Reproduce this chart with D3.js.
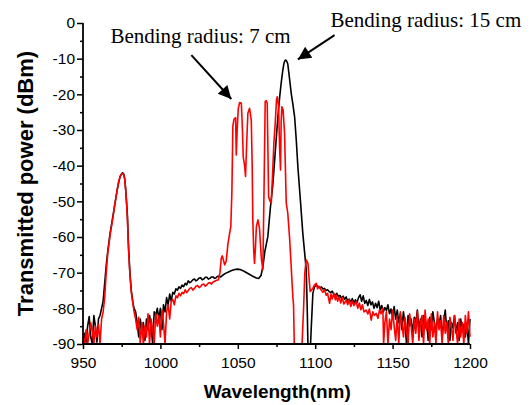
<!DOCTYPE html>
<html>
<head>
<meta charset="utf-8">
<script src="https://cdn.jsdelivr.net/npm/d3@7"></script>
<style>
  body { margin: 0; background: #fff; }
  .tick text { font-family: "Liberation Sans", Arial, sans-serif; font-size: 15.5px; fill: #000; }
  .axis-title { font-family: "Liberation Sans", Arial, sans-serif; font-weight: bold; fill: #000; }
  .note { font-family: "Liberation Serif", "Times New Roman", serif; font-size: 21px; fill: #000; }
</style>
</head>
<body>
<div id="chart"></div>
<script>
// wavelength (nm), transmitted power (dBm)
const black15cm = [
  [950,-90],[951,-87],[952,-89.5],[953,-85],[954,-82.3],[955,-88],[956,-90],[957,-82],[958,-85],[959,-89.5],
  [960,-83],[961,-82],[962,-80],[963,-78],[963.6,-75],[965,-68],[966,-64],[967.5,-59],[969.4,-54],[970.5,-51],
  [972,-47],[973,-44.8],[974,-43],[975,-42.2],[975.6,-42],[976.3,-42.3],[977,-43.8],[977.6,-46.8],[978.2,-50.5],
  [978.7,-54],[979.1,-59],[979.5,-63.6],[980.3,-70],[981.2,-75],[982.3,-78.5],[983,-80],[984,-81],[985,-84],
  [986,-88],[987,-83],[988,-87],[989,-84],[990,-89],[991,-83],[992,-86],[993,-82],[994,-85],[995,-90],[996,-81],
  [997,-82],[998,-80],[999,-83],[1000,-80],[1001,-86],[1002,-79],[1003,-81],[1004,-77],[1005,-79],[1006,-76],
  [1007,-78],[1008,-75.5],[1009,-76],[1010,-74.5],[1011,-74.9],[1012,-74],[1013,-74.4],[1014,-73.5],[1015,-73.9],
  [1016,-73],[1017,-73.4],[1018,-72.3],[1019,-72.8],[1020,-72.5],[1021,-72],[1022,-71.8],[1023,-72.3],[1024,-72],
  [1025,-71.5],[1026,-71.4],[1027,-72],[1028,-71.8],[1029,-71.3],[1030,-71.3],[1031,-71.8],[1032,-71.6],
  [1033,-71.2],[1034,-71.2],[1035,-71.6],[1036,-71.4],[1037,-71],[1038,-71],[1039,-71.2],[1040,-70.8],[1042,-70.2],
  [1044,-69.8],[1046,-69.4],[1048,-69.1],[1050,-69],[1052,-69.2],[1054,-69.6],[1056,-70.1],[1058,-70.6],
  [1060,-71.1],[1062,-71.5],[1063.5,-71.6],[1065,-70.8],[1066.2,-68.3],[1067.5,-64],[1069.4,-59.9],[1071,-52],
  [1072.7,-45],[1074.3,-35.5],[1075.9,-26.3],[1077,-21],[1078,-16.9],[1079,-13.5],[1079.8,-11.3],[1080.5,-10.5],
  [1081,-10.4],[1081.6,-10.7],[1082.3,-11.5],[1083.4,-15.5],[1084.5,-19.7],[1085.6,-22.8],[1086.7,-26.3],
  [1087.8,-33],[1088.8,-40.3],[1090.4,-49.5],[1092,-59],[1093.2,-64.5],[1094.2,-69.2],[1094.8,-79],[1095.3,-90],
  [1097,-90],[1097.5,-85],[1098.5,-75.8],[1099.5,-74],[1100.7,-73.5],[1102,-73.9],[1103,-74.3],[1104,-74],
  [1105,-74.6],[1106,-74.4],[1107,-75],[1108,-74.8],[1109,-75.3],[1110,-75.6],[1111,-75.2],[1112,-76],[1113,-76.3],
  [1114,-75.8],[1115,-76.7],[1116,-76.4],[1117,-77.2],[1118,-76.6],[1119,-77.5],[1120,-76.8],[1121,-78],
  [1122,-77.4],[1123,-78.2],[1124,-77.3],[1125,-78.5],[1126,-77.6],[1127,-78.4],[1128,-77],[1129,-76.2],[1130,-78],
  [1131,-76.5],[1132,-78.6],[1133,-77.8],[1134,-79.2],[1135,-77.5],[1136,-79],[1137,-78.2],[1138,-80],[1139,-78.6],
  [1140,-79.8],[1141,-78],[1142,-80.5],[1143,-79.2],[1144,-81],[1145,-79.8],[1146,-80.6],[1147,-79],[1148,-81.5],
  [1149,-80.2],[1150,-82.5],[1151,-79.5],[1152,-83],[1153,-80.5],[1154,-84],[1155,-81.5],[1156,-86],[1157,-81],
  [1158,-84.5],[1159,-90],[1160,-82],[1161,-85],[1162,-83],[1163,-87],[1164,-82.5],[1165,-84],[1166,-80.5],
  [1167,-86],[1168,-83],[1169,-88],[1170,-82],[1171,-85.5],[1172,-84],[1173,-89],[1174,-82.5],[1175,-86],
  [1176,-81],[1177,-84],[1178,-87],[1179,-83],[1180,-85],[1181,-82],[1182,-88],[1183,-84],[1184,-80.5],[1185,-86],
  [1186,-83.5],[1187,-89],[1188,-84],[1189,-85.5],[1190,-82],[1191,-87],[1192,-84],[1193,-89],[1194,-83],
  [1195,-86.5],[1196,-84.5],[1197,-88],[1198,-84],[1199,-90],[1200,-83]
];

const red7cm = [
  [950,-88],[951,-90],[952,-86],[953,-90],[954,-87],[955,-84],[956,-86.5],[957,-90],[958,-85],[959,-88],
  [960,-84.5],[961,-90],[962,-83],[963,-81],[964,-77],[965,-70],[966,-64.5],[967.5,-59.5],[969.4,-54.3],
  [970.5,-51],[972,-47],[973,-44.5],[974,-43],[975,-42.3],[975.6,-42.2],[976.3,-42.6],[977,-44],[977.6,-47],
  [978.2,-51],[978.7,-55],[979.1,-60],[979.5,-64],[980.3,-70.5],[981.2,-75.5],[982,-78],[983,-81],[984,-83],
  [985,-86],[986,-82.5],[987,-90],[988,-84],[989,-90],[990,-85],[991,-88],[992,-81.5],[993,-90],[994,-83],
  [995,-86],[996,-90],[997,-81.5],[998,-85],[999,-82],[1000,-88],[1001,-80.5],[1002,-84],[1003,-90],[1004,-81],
  [1005,-79],[1006,-83],[1007,-78],[1008,-77.5],[1009,-79],[1010,-76.5],[1011,-77],[1012,-75.8],[1013,-76.5],
  [1014,-75.5],[1015,-75.9],[1016,-74.8],[1017,-75.6],[1018,-75],[1019,-74.4],[1020,-74.2],[1021,-74.9],
  [1022,-74.4],[1023,-73.8],[1024,-73.6],[1025,-74.2],[1026,-73.9],[1027,-73.3],[1028,-73.2],[1029,-73.8],
  [1030,-73.4],[1031,-72.9],[1032,-72.8],[1033,-73.2],[1034,-72.6],[1035,-72.4],[1036,-72.2],[1037.5,-72],
  [1038.5,-70],[1039.3,-66],[1040,-65.3],[1041.5,-67.8],[1042.5,-66.8],[1043.6,-62],[1044.7,-59],[1045.5,-57],
  [1046.2,-47],[1046.8,-29],[1047.5,-27],[1048.6,-26.5],[1049,-37],[1049.6,-30],[1050.3,-24],[1051.2,-22.3],
  [1052.3,-22.5],[1053,-30],[1053.5,-37.5],[1054.4,-40],[1055,-43],[1055.8,-33],[1056.5,-25.3],[1057.6,-23.9],
  [1058.7,-27.2],[1059.3,-40],[1059.7,-55.2],[1060.3,-64],[1060.8,-67.4],[1061.4,-63],[1062,-57.1],[1063,-55.2],
  [1064,-57.5],[1065.2,-66],[1066.2,-69.2],[1067,-45],[1067.7,-22],[1068.4,-21.8],[1069,-22.5],[1069.9,-48.7],
  [1070.8,-50],[1071.6,-50.5],[1072.5,-42],[1073.3,-33.7],[1074.2,-28],[1075,-21.5],[1075.5,-20.7],[1076.3,-23],
  [1077,-35],[1077.6,-41.2],[1078,-28],[1078.5,-23.5],[1079.3,-24.5],[1080.2,-30.9],[1081.3,-50.5],[1082.3,-53.4],
  [1083.4,-59.9],[1084.5,-68.3],[1085.2,-74],[1085.6,-77],[1086,-79],[1086.5,-90],[1091.5,-90],[1092.5,-80],
  [1093.3,-70],[1094.2,-66.4],[1095.3,-67.4],[1096.3,-73],[1096.8,-75.3],[1097.7,-74.8],[1098.5,-74.4],
  [1099.5,-73.5],[1100.7,-73],[1101.5,-74.5],[1102.5,-73.8],[1103.9,-74.9],[1105,-75.5],[1106,-74.8],
  [1107.1,-76.3],[1108,-75.8],[1109.3,-78.6],[1110.2,-76],[1111,-77.4],[1112,-75.8],[1113,-77.6],[1113.6,-76.3],
  [1114.5,-78],[1115.5,-76.8],[1116.5,-78.5],[1117.5,-77],[1118.5,-78.8],[1120,-77.7],[1121,-79],[1122,-77.6],
  [1123,-79.5],[1124,-78],[1125,-79.2],[1126.5,-78.1],[1127.5,-80],[1128.5,-78.5],[1129.5,-80.4],[1130.5,-79],
  [1131.5,-81],[1132.9,-80.5],[1134,-81.6],[1135,-80.2],[1136.2,-83.3],[1137.2,-81],[1138.2,-82],[1139.4,-81.4],
  [1140.5,-82.8],[1141.5,-80.5],[1142.5,-81.5],[1143.7,-80],[1144.2,-90],[1145,-84],[1146,-81],[1147,-90],
  [1148,-83],[1149,-86],[1150,-80.5],[1151,-85],[1152,-89],[1153,-82],[1154,-90],[1155,-81],[1156,-84],[1157,-88],
  [1158,-82.5],[1159,-86],[1160,-90],[1161,-81.5],[1162,-85],[1163,-90],[1164,-83],[1165,-87],[1166,-80.8],
  [1167,-89],[1168,-84],[1169,-82],[1170,-90],[1171,-80.5],[1172,-86],[1173,-83],[1174,-90],[1175,-81.5],
  [1176,-88],[1177,-84],[1178,-90],[1179,-81],[1180,-86],[1181,-83.5],[1182,-90],[1183,-82],[1184,-87],[1185,-84],
  [1186,-90],[1187,-82.5],[1188,-85],[1189,-89],[1190,-82],[1191,-86],[1192,-90],[1193,-83],[1194,-88],[1195,-84],
  [1196,-90],[1197,-82],[1198,-87],[1199,-81],[1200,-88]
];

const xTicks = [950, 1000, 1050, 1100, 1150, 1200];
const xMinorTicks = [975, 1025, 1075, 1125, 1175];
const yTicks = [0, -10, -20, -30, -40, -50, -60, -70, -80, -90];
const yMinorTicks = [-5, -15, -25, -35, -45, -55, -65, -75, -85];

// label text, anchor [nm, dBm], arrow tail and tip [nm, dBm]
const noteLabels = ["Bending radius: 7 cm", "Bending radius: 15 cm"];
const noteAnchors = [[967.7, -5.7], [1109.9, -1.0]];
const arrowTails = [[1020, -9], [1112.5, -3.4]];
const arrowTips = [[1045.8, -21.3], [1088.8, -10.2]];

const width = 531;
const height = 405;
const margin = {top: 23, right: 61, bottom: 61, left: 83};
const plotW = width - margin.left - margin.right;
const plotH = height - margin.top - margin.bottom;

const x = d3.scaleLinear().domain([950, 1200]).range([0, plotW]);
const y = d3.scaleLinear().domain([-90, 0]).range([plotH, 0]);

const svg = d3.select("#chart")
  .append("svg")
  .attr("width", width)
  .attr("height", height);

svg.append("defs").append("marker")
  .attr("id", "head")
  .attr("viewBox", "0 0 10 10")
  .attr("refX", 10)
  .attr("refY", 5)
  .attr("markerUnits", "userSpaceOnUse")
  .attr("markerWidth", 17)
  .attr("markerHeight", 13)
  .attr("orient", "auto")
  .append("path")
  .attr("d", "M0,0 L10,5 L0,10 Z")
  .attr("fill", "#000");

const g = svg.append("g")
  .attr("transform", `translate(${margin.left},${margin.top})`);

const line = d3.line()
  .x(d => x(d[0]))
  .y(d => y(d[1]));

g.append("path")
  .datum(black15cm)
  .attr("fill", "none")
  .attr("stroke", "#000")
  .attr("stroke-width", 1.6)
  .attr("stroke-linejoin", "round")
  .attr("d", line);

g.append("path")
  .datum(red7cm)
  .attr("fill", "none")
  .attr("stroke", "#ff0000")
  .attr("stroke-width", 1.6)
  .attr("stroke-linejoin", "round")
  .attr("d", line);

// axes
const xAxis = g.append("g")
  .attr("transform", `translate(0,${plotH})`)
  .call(d3.axisBottom(x).tickValues(xTicks).tickSize(5).tickPadding(8).tickFormat(d3.format("d")));

g.append("g")
  .attr("transform", `translate(0,${plotH})`)
  .call(d3.axisBottom(x).tickValues(xMinorTicks).tickSize(3).tickFormat(""))
  .select(".domain").remove();

const yAxis = g.append("g")
  .call(d3.axisLeft(y).tickValues(yTicks).tickSize(6).tickPadding(2).tickFormat(d3.format("d")));

g.append("g")
  .call(d3.axisLeft(y).tickValues(yMinorTicks).tickSize(3).tickFormat(""))
  .select(".domain").remove();

g.selectAll(".domain").attr("stroke-width", 1.8).attr("d", null);
xAxis.select(".domain").attr("d", `M0,0H${plotW}`);
yAxis.select(".domain").attr("d", `M0,0V${plotH}`);
g.selectAll(".tick line").attr("stroke-width", 1.5);

g.selectAll(".tick text").text(function() {
  return this.textContent.replace("\u2212", "-");
});

// axis titles
svg.append("text")
  .attr("class", "axis-title")
  .attr("x", margin.left + x(1075.5))
  .attr("y", 398)
  .attr("text-anchor", "middle")
  .style("font-size", "19px")
  .text("Wavelength(nm)");

svg.append("text")
  .attr("class", "axis-title")
  .attr("transform", `translate(33,${margin.top + y(-45)}) rotate(-90)`)
  .attr("text-anchor", "middle")
  .style("font-size", "22px")
  .text("Transmitted power (dBm)");

// annotations
g.selectAll(".note")
  .data(noteLabels)
  .enter()
  .append("text")
  .attr("class", "note")
  .attr("x", (d, i) => x(noteAnchors[i][0]))
  .attr("y", (d, i) => y(noteAnchors[i][1]))
  .text(d => d);

g.selectAll(".arrow")
  .data(arrowTails)
  .enter()
  .append("line")
  .attr("class", "arrow")
  .attr("x1", d => x(d[0]))
  .attr("y1", d => y(d[1]))
  .attr("x2", (d, i) => x(arrowTips[i][0]))
  .attr("y2", (d, i) => y(arrowTips[i][1]))
  .attr("stroke", "#000")
  .attr("stroke-width", 2)
  .attr("marker-end", "url(#head)");
</script>
</body>
</html>
